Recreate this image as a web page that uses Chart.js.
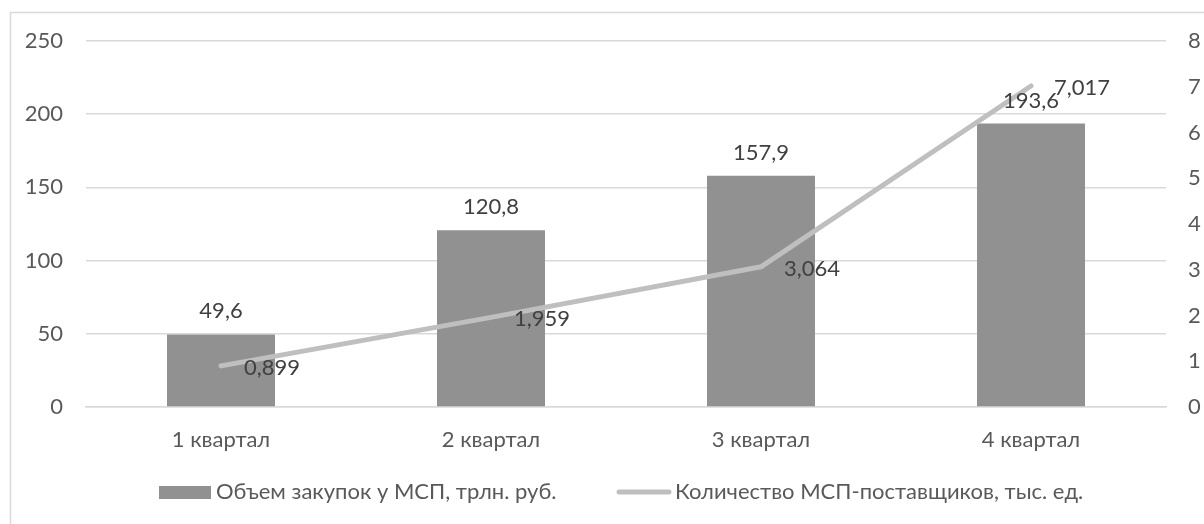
<!DOCTYPE html>
<html>
<head>
<meta charset="utf-8">
<script src="https://cdn.jsdelivr.net/npm/chart.js@4"></script>
<style>
  html, body { margin: 0; padding: 0; background: #fff; }
  canvas { display: block; }
</style>
</head>
<body>
<canvas id="chart" width="1204" height="524"></canvas>
<script>
(function(){
  const quarters = ['1 квартал', '2 квартал', '3 квартал', '4 квартал'];
  const volume = [49.6, 120.8, 157.9, 193.6];
  const suppliers = [0.899, 1.959, 3.064, 7.017];
  const volumeLabel = 'Объем закупок у МСП, трлн. руб.';
  const suppliersLabel = 'Количество МСП-поставщиков, тыс. ед.';

  const FONT = 'Lato, "Open Sans", sans-serif';
  const FSIZE = 22;
  const barColor = '#919191';
  const lineColor = '#bfbfbf';
  const gridColor = '#d9d9d9';
  const textColor = '#595959';
  const labelColor = '#404040';

  const fmt = v => String(v).replace('.', ',');

  // рамка и фон
  const frame = {
    id: 'frame',
    beforeDraw(chart){
      const ctx = chart.ctx;
      ctx.save();
      ctx.fillStyle = '#fff';
      ctx.fillRect(0, 0, chart.width, chart.height);
      ctx.strokeStyle = gridColor;
      ctx.lineWidth = 1.5;
      ctx.strokeRect(10.5, 12.5, chart.width + 20, chart.height + 20);
      ctx.restore();
    }
  };

  // подписи значений
  const valueLabels = {
    id: 'valueLabels',
    afterDatasetsDraw(chart){
      const ctx = chart.ctx;
      ctx.save();
      ctx.font = FSIZE + 'px ' + FONT;
      ctx.fillStyle = labelColor;
      ctx.textBaseline = 'middle';
      chart.getDatasetMeta(1).data.forEach((el, i) => {
        ctx.textAlign = 'center';
        ctx.fillText(fmt(volume[i]), el.x, el.y - 23);
      });
      chart.getDatasetMeta(0).data.forEach((el, i) => {
        ctx.textAlign = 'left';
        ctx.fillText(fmt(suppliers[i]), el.x + 23, el.y + 2);
      });
      ctx.restore();
    }
  };

  // легенда снизу
  const bottomLegend = {
    id: 'bottomLegend',
    afterDraw(chart){
      const ctx = chart.ctx;
      const y = 492;
      ctx.save();
      ctx.font = FSIZE + 'px ' + FONT;
      ctx.textBaseline = 'middle';
      ctx.textAlign = 'left';

      ctx.fillStyle = barColor;
      ctx.fillRect(159, 486, 52, 13);
      ctx.fillStyle = textColor;
      ctx.fillText(volumeLabel, 216, y);

      ctx.strokeStyle = lineColor;
      ctx.lineWidth = 5;
      ctx.lineCap = 'round';
      ctx.beginPath();
      ctx.moveTo(619, y);
      ctx.lineTo(669, y);
      ctx.stroke();
      ctx.fillText(suppliersLabel, 675, y);
      ctx.restore();
    }
  };

  new Chart(document.getElementById('chart'), {
    data: {
      labels: quarters,
      datasets: [
        {
          type: 'line',
          label: suppliersLabel,
          data: suppliers,
          yAxisID: 'y1',
          borderColor: lineColor,
          borderWidth: 5,
          borderCapStyle: 'round',
          borderJoinStyle: 'round',
          pointRadius: 0,
          tension: 0,
          order: 0
        },
        {
          type: 'bar',
          label: volumeLabel,
          data: volume,
          yAxisID: 'y',
          backgroundColor: barColor,
          barPercentage: 0.4,
          categoryPercentage: 1,
          order: 1
        }
      ]
    },
    options: {
      responsive: false,
      animation: false,
      layout: { padding: { top: 41, left: 0, right: 0, bottom: 0 } },
      plugins: {
        legend: { display: false },
        tooltip: { enabled: false }
      },
      scales: {
        x: {
          grid: { display: false, drawTicks: false },
          border: { display: true, color: gridColor, width: 1.5 },
          ticks: { color: textColor, font: { family: FONT, size: FSIZE }, padding: 20 },
          afterFit: s => { s.height = 117; }
        },
        y: {
          position: 'left',
          min: 0, max: 250,
          ticks: { stepSize: 50, color: textColor, font: { family: FONT, size: FSIZE }, padding: 23 },
          grid: { color: gridColor, lineWidth: 1.5, drawTicks: false },
          border: { display: false },
          afterFit: s => { s.width = 86; }
        },
        y1: {
          position: 'right',
          min: 0, max: 8,
          ticks: { stepSize: 1, color: textColor, font: { family: FONT, size: FSIZE }, padding: 22 },
          grid: { drawOnChartArea: false, drawTicks: false },
          border: { display: false },
          afterFit: s => { s.width = 38; }
        }
      }
    },
    plugins: [frame, valueLabels, bottomLegend]
  });
})();
</script>
</body>
</html>
